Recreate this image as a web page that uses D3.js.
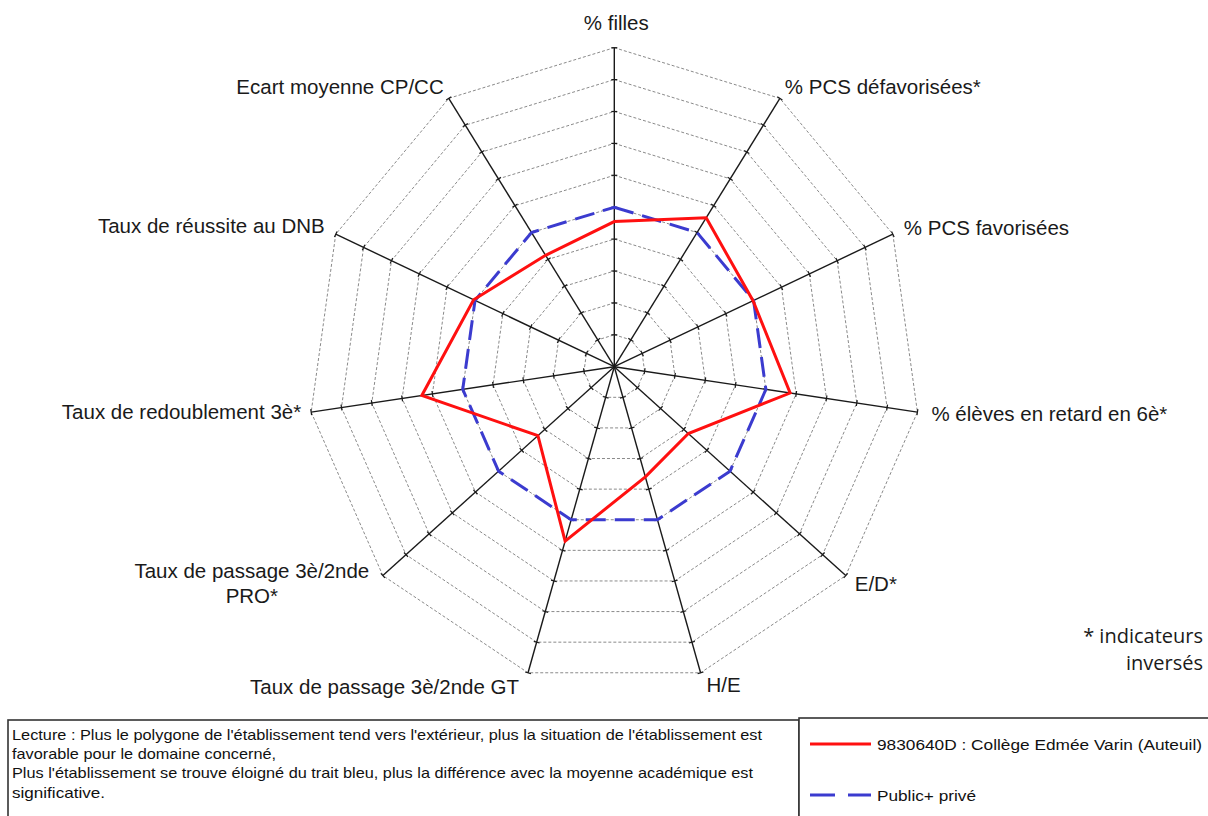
<!DOCTYPE html>
<html>
<head>
<meta charset="utf-8">
<script src="https://cdn.jsdelivr.net/npm/d3@7"></script>
<style>
  html, body { margin: 0; padding: 0; background: #fff; }
  svg { display: block; }
</style>
</head>
<body>
<svg id="chart" width="1208" height="816"></svg>
<script>
// ---------- data ----------
const axisLabels = [
  "% filles",
  "% PCS défavorisées*",
  "% PCS favorisées",
  "% élèves en retard en 6è*",
  "E/D*",
  "H/E",
  "Taux de passage 3è/2nde GT",
  "Taux de passage 3è/2nde\nPRO*",
  "Taux de redoublement 3è*",
  "Taux de réussite au DNB",
  "Ecart moyenne CP/CC"
];
const etablissementValues = [4.55, 5.55, 4.98, 5.8, 3.2, 3.6, 5.7, 3.3, 6.35, 5.05, 4.15];
const academieValues      = [5, 5, 5, 5, 5, 5, 5, 5, 5, 5, 5];
const scaleTicks = [1, 2, 3, 4, 5, 6, 7, 8, 9, 10];
const seriesNames = ["9830640D : Collège Edmée Varin (Auteuil)", "Public+ privé"];
const lectureLines = [
  "Lecture : Plus le polygone de l'établissement tend  vers l'extérieur, plus la situation de l'établissement est",
  "favorable pour le domaine  concerné,",
  "Plus l'établissement se trouve éloigné du trait bleu, plus la différence avec la moyenne académique est",
  "significative."
];
const noteLines = ["* indicateurs", "inversés"];

// ---------- layout (style, not data) ----------
const cx = 614.3, cy = 366.7, R = 319, kx = 0.96;
const labelLayout = [
  {anchor: "middle", dx: 2,    dy: -18},
  {anchor: "start",  dx: 5,    dy: -4},
  {anchor: "start",  dx: 11,   dy: 1},
  {anchor: "start",  dx: 14,   dy: 9},
  {anchor: "start",  dx: 9,    dy: 15},
  {anchor: "start",  dx: 6,    dy: 19},
  {anchor: "end",    dx: -9,   dy: 21},
  {anchor: "middle", dx: -131, dy: 2},
  {anchor: "end",    dx: -10,  dy: 7},
  {anchor: "end",    dx: -11,  dy: -1},
  {anchor: "end",    dx: -5,   dy: -4}
];

const svg = d3.select("#chart");
const n = axisLabels.length;
const rScale = d3.scaleLinear().domain([0, 10]).range([0, R]);
const angle = i => i * 2 * Math.PI / n;
const pt = (i, v) => [cx + rScale(v) * Math.sin(angle(i)) * kx, cy - rScale(v) * Math.cos(angle(i))];

// grid rings
const g = svg.append("g");
g.selectAll("path.ring").data(scaleTicks).join("path")
  .attr("class", "ring")
  .attr("d", t => d3.line()(d3.range(n).map(i => pt(i, t))) + "Z")
  .attr("fill", "none")
  .attr("stroke", "#8a8a8a")
  .attr("stroke-width", 1)
  .attr("stroke-dasharray", "3,2");

// axes
g.selectAll("line.axis").data(d3.range(n)).join("line")
  .attr("class", "axis")
  .attr("x1", cx).attr("y1", cy)
  .attr("x2", i => pt(i, 10)[0]).attr("y2", i => pt(i, 10)[1])
  .attr("stroke", "#1a1a1a").attr("stroke-width", 1.4);

// tick marks
const tickData = [];
d3.range(n).forEach(i => scaleTicks.forEach(t => tickData.push({i, t})));
g.selectAll("line.tick").data(tickData).join("line")
  .attr("class", "tick")
  .each(function(d) {
    const [x, y] = pt(d.i, d.t);
    let ux = Math.sin(angle(d.i)) * kx, uy = -Math.cos(angle(d.i));
    const L = Math.hypot(ux, uy); ux /= L; uy /= L;
    const px = -uy, py = ux, h = 3;
    d3.select(this)
      .attr("x1", x - px * h).attr("y1", y - py * h)
      .attr("x2", x + px * h).attr("y2", y + py * h);
  })
  .attr("stroke", "#1a1a1a").attr("stroke-width", 1.2);

// series
const lineGen = d3.line();
g.append("path")
  .attr("d", lineGen(academieValues.map((v, i) => pt(i, v))) + "Z")
  .attr("fill", "none").attr("stroke", "#3b3bcf").attr("stroke-width", 3)
  .attr("stroke-dasharray", "20,9");
g.append("path")
  .attr("d", lineGen(etablissementValues.map((v, i) => pt(i, v))) + "Z")
  .attr("fill", "none").attr("stroke", "#ff1010").attr("stroke-width", 3)
  .attr("stroke-linejoin", "miter");

// axis labels
axisLabels.forEach((lab, i) => {
  const [ex, ey] = pt(i, 10);
  const lay = labelLayout[i];
  const t = svg.append("text")
    .attr("x", ex + lay.dx).attr("y", ey + lay.dy)
    .attr("text-anchor", lay.anchor)
    .attr("font-family", "'Liberation Sans', Arial, sans-serif")
    .attr("font-size", 20.5)
    .attr("fill", "#1a1a1a");
  lab.split("\n").forEach((s, k) => {
    t.append("tspan").attr("x", ex + lay.dx).attr("dy", k === 0 ? 0 : 25).text(s);
  });
});

// note
svg.append("g").selectAll("text").data(noteLines).join("text")
  .attr("x", 1203).attr("y", (d, k) => 643 + k * 27)
  .attr("text-anchor", "end")
  .attr("font-family", "'Open Sans', sans-serif")
  .attr("font-size", 20)
  .attr("fill", "#1a1a1a")
  .text(d => d);

// lecture box
svg.append("rect").attr("x", 8).attr("y", 720).attr("width", 791).attr("height", 120)
  .attr("fill", "#fff").attr("stroke", "#333").attr("stroke-width", 1.6);
const lectureY = [740, 759, 778, 798];
const lectureW = [750, 264, 741, 93];
svg.append("g").selectAll("text").data(lectureLines).join("text")
  .attr("x", 12).attr("y", (d, k) => lectureY[k])
  .attr("textLength", (d, k) => lectureW[k])
  .attr("lengthAdjust", "spacingAndGlyphs")
  .attr("font-family", "'Liberation Sans', Arial, sans-serif")
  .attr("font-size", 15)
  .attr("fill", "#111")
  .text(d => d);

// legend box
svg.append("rect").attr("x", 799).attr("y", 718).attr("width", 420).attr("height", 120)
  .attr("fill", "#fff").attr("stroke", "#333").attr("stroke-width", 1.6);
const legY = [744, 795];
const legStyle = [{c: "#ff1010", dash: null}, {c: "#3b3bcf", dash: "25,13"}];
seriesNames.forEach((name, k) => {
  svg.append("line").attr("x1", 810).attr("x2", 871).attr("y1", legY[k]).attr("y2", legY[k])
    .attr("stroke", legStyle[k].c).attr("stroke-width", 3)
    .attr("stroke-dasharray", legStyle[k].dash);
  svg.append("text").attr("x", 877).attr("y", legY[k] + 5.5)
    .attr("font-family", "'Liberation Sans', Arial, sans-serif")
    .attr("font-size", 15.5)
    .attr("fill", "#111")
    .attr("textLength", k === 0 ? 325 : 99)
    .attr("lengthAdjust", "spacingAndGlyphs")
    .text(name);
});
</script>
</body>
</html>
